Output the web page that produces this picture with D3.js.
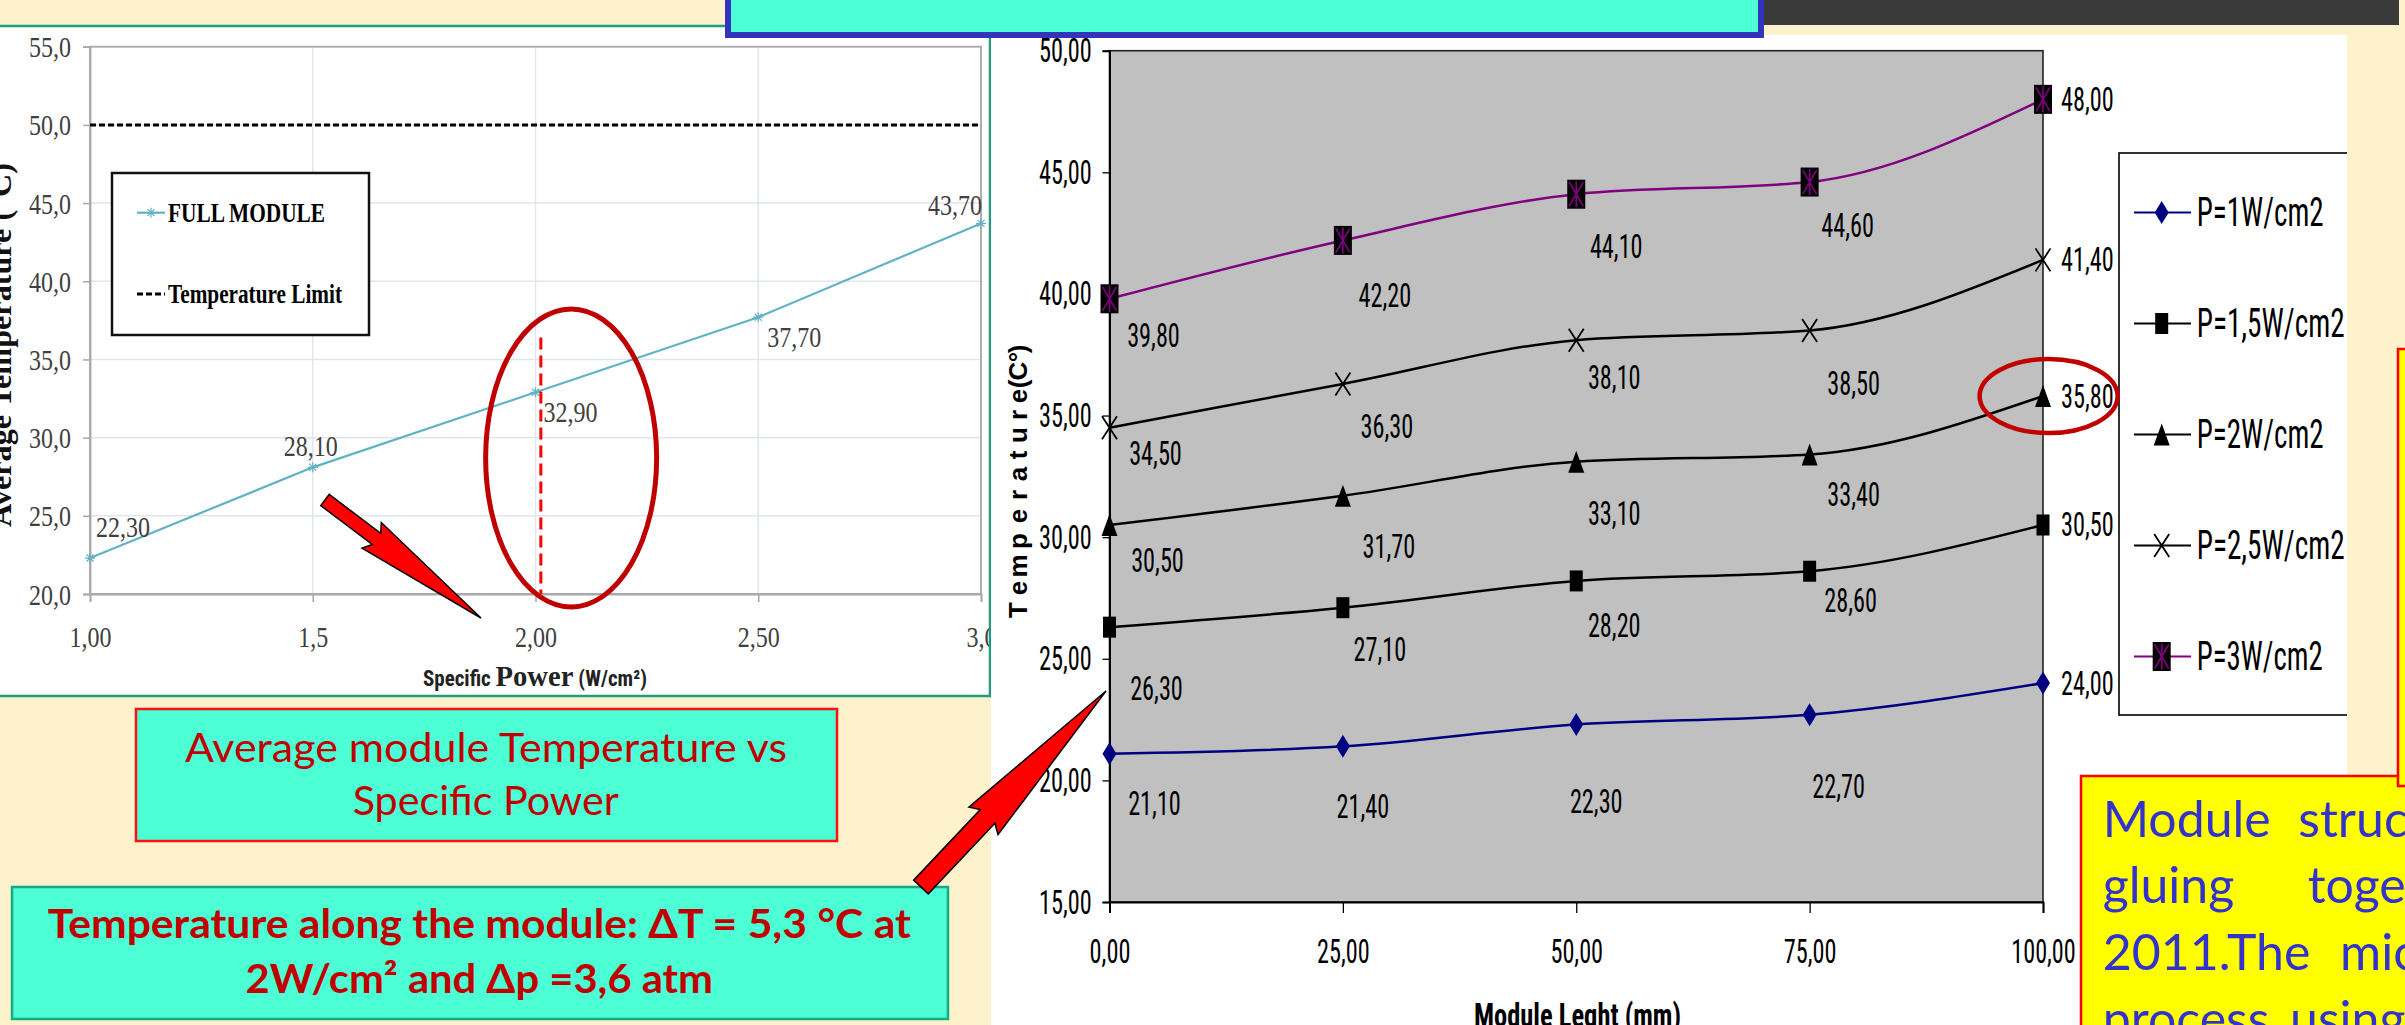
<!DOCTYPE html>
<html><head><meta charset="utf-8">
<script src="https://cdn.jsdelivr.net/npm/d3@7"></script>
<style>html,body{margin:0;padding:0;background:#fdf2cc;overflow:hidden}svg{display:block}</style>
</head><body>
<svg id="c" width="2405" height="1025"></svg>
<script>
// ---------------- DATA ----------------
// Left chart: average module temperature vs specific power
const powerLevels = [1.0, 1.5, 2.0, 2.5, 3.0];
const powerTickLabels = ["1,00", "1,5", "2,00", "2,50", "3,0"];
const avgTemperature = [22.3, 28.1, 32.9, 37.7, 43.7];
const temperatureLimit = 50;
const leftYTicks = [20, 25, 30, 35, 40, 45, 50, 55];
const leftLegend = ["FULL MODULE", "Temperature Limit"];

// Right chart: temperature along the module
const moduleLength = [0, 25, 50, 75, 100];
const seriesNames = ["P=1W/cm2", "P=1,5W/cm2", "P=2W/cm2", "P=2,5W/cm2", "P=3W/cm2"];
const tempP1  = [21.1, 21.4, 22.3, 22.7, 24.0];
const tempP15 = [26.3, 27.1, 28.2, 28.6, 30.5];
const tempP2  = [30.5, 31.7, 33.1, 33.4, 35.8];
const tempP25 = [34.5, 36.3, 38.1, 38.5, 41.4];
const tempP3  = [39.8, 42.2, 44.1, 44.6, 48.0];
const rightYTicks = [15, 20, 25, 30, 35, 40, 45, 50];

// ---------------- STYLE / LAYOUT ----------------
const W = 2405, H = 1025;
const CREAM = "#fdf2cc", TURQ = "#4dffd4", DARKRED = "#c00000";
const NARROW = "'Liberation Sans Narrow','Arial Narrow','Roboto Condensed','Liberation Sans',Arial,sans-serif";
const SANS = "'Liberation Sans',Arial,sans-serif";
const SERIF = "'Liberation Serif','Times New Roman',serif";
const CALIBRI = "Lato,'Open Sans',sans-serif";
const seriesStyle = [
  {color: "#000080", marker: "diamond"},
  {color: "#000000", marker: "square"},
  {color: "#000000", marker: "triangle"},
  {color: "#000000", marker: "cross"},
  {color: "#800080", marker: "boxstar"}
];
// label nudges (px) relative to the point for the data labels
const leftLabelNudge = [[33, -31], [-2, -21], [35, 20], [36, 20], [-26, -18]];
const rightLabelNudge = [
  [[45, 50], [20, 60], [20, 77], [29, 72]],
  [[47, 61], [37, 42], [38, 45], [41, 29]],
  [[48, 36], [46, 51], [38, 52], [44, 40]],
  [[46, 26], [44, 43], [38, 37], [44, 53]],
  [[44, 37], [42, 55], [40, 52], [38, 43]]
];
// spaced-out right y-axis title: characters and their vertical centres
const rightTitleChars = "Temperature(C°)".split("");
const rightTitleCharY = [610, 588, 566, 541, 516, 495, 474, 455, 435, 415, 396, 384, 371, 357, 349];

const fmt2 = v => d3.format(".2f")(v).replace(".", ",");
const fmt1 = v => d3.format(".1f")(v).replace(".", ",");
function numW(s, dw, cw) { let w = 0; for (const c of s) w += (c === "," ? cw : dw); return w; }
function fitText(t, w) { return t.attr("textLength", w).attr("lengthAdjust", "spacingAndGlyphs"); }
function rotatedTitle(parent, cx, cy, str, target, font) {
  const g = parent.append("g");
  const t = g.append("text").attr("text-anchor", "middle").style("white-space", "pre")
    .attr("font-family", font.family).attr("font-weight", "bold").attr("font-size", font.size).attr("fill", font.fill)
    .text(str);
  const w = t.node().getComputedTextLength() || target;
  g.attr("transform", `translate(${cx},${cy}) rotate(-90) scale(${target / w},1)`);
}

const svg = d3.select("#c");
const defs = svg.append("defs");
svg.append("rect").attr("width", W).attr("height", H).attr("fill", CREAM);

// =============== LEFT PANEL ===============
defs.append("clipPath").attr("id", "clipL").append("rect").attr("x", 0).attr("y", 26).attr("width", 989).attr("height", 669);
svg.append("rect").attr("x", -3).attr("y", 26).attr("width", 993).attr("height", 670)
  .attr("fill", "#fff").attr("stroke", "#1f9c7c").attr("stroke-width", 2.5);
const L = svg.append("g").attr("clip-path", "url(#clipL)");
const xL = d3.scaleLinear().domain([1, 3]).range([90, 981]);
const yL = d3.scaleLinear().domain([20, 55]).range([594, 46.7]);

L.append("g").selectAll("line").data(leftYTicks).join("line")
  .attr("x1", xL(1)).attr("x2", xL(3)).attr("y1", d => yL(d)).attr("y2", d => yL(d))
  .attr("stroke", "#dfe6ee").attr("stroke-width", 1.5);
L.append("g").selectAll("line").data(powerLevels).join("line")
  .attr("x1", d => xL(d)).attr("x2", d => xL(d)).attr("y1", yL(55)).attr("y2", yL(20))
  .attr("stroke", "#dfe6ee").attr("stroke-width", 1.5);
L.append("rect").attr("x", xL(1)).attr("y", yL(55)).attr("width", xL(3) - xL(1)).attr("height", yL(20) - yL(55))
  .attr("fill", "none").attr("stroke", "#a8a8a8").attr("stroke-width", 1.8);

const axL = L.append("g").attr("transform", `translate(0,${yL(20)})`)
  .call(d3.axisBottom(xL).tickValues(powerLevels).tickFormat((d, i) => powerTickLabels[i]).tickSize(8));
const ayL = L.append("g").attr("transform", `translate(${xL(1)},0)`)
  .call(d3.axisLeft(yL).tickValues(leftYTicks).tickFormat(fmt1).tickSize(7));
[axL, ayL].forEach(a => { a.select(".domain").attr("stroke", "#a8a8a8").attr("stroke-width", 1.8); a.selectAll(".tick line").attr("stroke", "#a8a8a8").attr("stroke-width", 1.5); });
axL.selectAll(".tick text").each(function () {
  const t = d3.select(this), w = numW(t.text(), 12, 6);
  t.attr("font-family", SERIF).attr("font-size", 29).attr("fill", "#404040").attr("text-anchor", "start")
    .attr("x", -w / 2).attr("y", 52.7).attr("dy", 0);
  fitText(t, w);
});
ayL.selectAll(".tick text").each(function () {
  const t = d3.select(this), w = numW(t.text(), 12, 6);
  t.attr("font-family", SERIF).attr("font-size", 29).attr("fill", "#404040").attr("text-anchor", "start")
    .attr("x", -(xL(1) - 71) - w).attr("dy", 10);
  fitText(t, w);
});

L.append("line").attr("x1", xL(1)).attr("x2", xL(3)).attr("y1", yL(temperatureLimit)).attr("y2", yL(temperatureLimit))
  .attr("stroke", "#000").attr("stroke-width", 3).attr("stroke-dasharray", "6,3");

const TEAL = "#62b2c6";
const leftPts = powerLevels.map((p, i) => [xL(p), yL(avgTemperature[i])]);
L.append("path").attr("d", d3.line()(leftPts)).attr("fill", "none").attr("stroke", TEAL).attr("stroke-width", 2.2);
const astr = "M-5,0H5M0,-5V5M-3.5,-3.5L3.5,3.5M3.5,-3.5L-3.5,3.5";
L.append("g").selectAll("path").data(leftPts).join("path")
  .attr("transform", d => `translate(${d[0]},${d[1]})`).attr("d", astr).attr("stroke", TEAL).attr("stroke-width", 1.2);
L.append("g").selectAll("text").data(avgTemperature).join("text")
  .each(function (v, i) {
    const s = fmt2(v), w = numW(s, 12, 6);
    const t = d3.select(this).text(s)
      .attr("x", xL(powerLevels[i]) + leftLabelNudge[i][0] - w / 2)
      .attr("y", yL(v) + leftLabelNudge[i][1] + 10)
      .attr("font-family", SERIF).attr("font-size", 30).attr("fill", "#404040");
    fitText(t, w);
  });

L.append("rect").attr("x", 112).attr("y", 173).attr("width", 257).attr("height", 162)
  .attr("fill", "#fff").attr("stroke", "#111").attr("stroke-width", 2.5);
L.append("line").attr("x1", 137).attr("x2", 165).attr("y1", 212.7).attr("y2", 212.7).attr("stroke", TEAL).attr("stroke-width", 2.2);
L.append("path").attr("transform", "translate(151,212.7)").attr("d", astr).attr("stroke", TEAL).attr("stroke-width", 1.2);
L.append("line").attr("x1", 137).attr("x2", 165).attr("y1", 294).attr("y2", 294).attr("stroke", "#000").attr("stroke-width", 3).attr("stroke-dasharray", "6,3");
fitText(L.append("text").text(leftLegend[0]).attr("x", 168).attr("y", 222).attr("font-family", SERIF).attr("font-weight", "bold").attr("font-size", 28), 157);
fitText(L.append("text").text(leftLegend[1]).attr("x", 168).attr("y", 303).attr("font-family", SERIF).attr("font-weight", "bold").attr("font-size", 28), 174);

rotatedTitle(L, 11, 345, "Average Temperature (°C)", 364, {family: SERIF, size: 32, fill: "#111"});
const xtl = L.append("text").attr("x", 423).attr("y", 686).attr("font-weight", "bold").attr("fill", "#222");
xtl.append("tspan").attr("font-family", NARROW).attr("font-size", 22).text("Specific ");
xtl.append("tspan").attr("font-family", SERIF).attr("font-size", 30).text("Power");
xtl.append("tspan").attr("font-family", NARROW).attr("font-size", 22).text(" (W/cm²)");
fitText(xtl, 224);

L.append("ellipse").attr("cx", xL(2.08)).attr("cy", yL(28.7)).attr("rx", 85.5).attr("ry", 149)
  .attr("fill", "none").attr("stroke", DARKRED).attr("stroke-width", 5);
L.append("line").attr("x1", xL(2.012)).attr("x2", xL(2.012)).attr("y1", yL(36.4)).attr("y2", yL(20))
  .attr("stroke", "#ff0000").attr("stroke-width", 3).attr("stroke-dasharray", "12,6");

// =============== RIGHT PANEL ===============
defs.append("clipPath").attr("id", "clipR").append("rect").attr("x", 991).attr("y", 35).attr("width", 1356).attr("height", 990);
svg.append("rect").attr("x", 991).attr("y", 35).attr("width", 1356).attr("height", 990).attr("fill", "#fff");
const R = svg.append("g").attr("clip-path", "url(#clipR)");
const xR = d3.scaleLinear().domain([0, 100]).range([1109.5, 2043]);
const yR = d3.scaleLinear().domain([15, 50]).range([902, 50.7]);

R.append("rect").attr("x", xR(0)).attr("y", yR(50)).attr("width", xR(100) - xR(0)).attr("height", yR(15) - yR(50))
  .attr("fill", "#c0c0c0").attr("stroke", "#222").attr("stroke-width", 1.6);

const axR = R.append("g").attr("transform", `translate(0,${yR(15)})`)
  .call(d3.axisBottom(xR).tickValues(moduleLength).tickFormat(fmt2).tickSize(11));
const ayR = R.append("g").attr("transform", `translate(${xR(0)},0)`)
  .call(d3.axisLeft(yR).tickValues(rightYTicks).tickFormat(fmt2).tickSize(7));
[axR, ayR].forEach(a => { a.select(".domain").attr("stroke", "#000").attr("stroke-width", 2); a.selectAll(".tick line").attr("stroke", "#000").attr("stroke-width", 1.3); });
axR.selectAll(".tick text").each(function () {
  const t = d3.select(this), w = numW(t.text(), 11.8, 5.5);
  t.attr("font-family", NARROW).attr("font-size", 33).attr("fill", "#000").attr("text-anchor", "start")
    .attr("x", -w / 2).attr("y", 61.3).attr("dy", 0);
  fitText(t, w);
});
ayR.selectAll(".tick text").each(function () {
  const t = d3.select(this), w = numW(t.text(), 11.8, 5.5);
  t.attr("font-family", NARROW).attr("font-size", 33).attr("fill", "#000").attr("text-anchor", "start")
    .attr("x", -17.8 - w).attr("dy", 11);
  fitText(t, w);
});

function marker(g, type, x, y, color) {
  const m = g.append("g").attr("transform", `translate(${x},${y})`);
  if (type === "diamond") m.append("path").attr("d", "M0,-11.5L7,0L0,11.5L-7,0Z").attr("fill", color);
  else if (type === "square") m.append("rect").attr("x", -6.5).attr("y", -10.5).attr("width", 13).attr("height", 21).attr("fill", color);
  else if (type === "triangle") m.append("path").attr("d", "M0,-11L8,11L-8,11Z").attr("fill", color);
  else if (type === "cross") m.append("path").attr("d", "M-7.5,-11.5L7.5,11.5M7.5,-11.5L-7.5,11.5").attr("stroke", color).attr("stroke-width", 1.8);
  else if (type === "boxstar") {
    m.append("rect").attr("x", -9).attr("y", -14.5).attr("width", 18).attr("height", 29).attr("fill", "#000");
    m.append("path").attr("d", "M-7,-12L7,12M7,-12L-7,12M0,-13L0,13").attr("stroke", color).attr("stroke-width", 1.6);
  }
}

const seriesValues = [tempP1, tempP15, tempP2, tempP25, tempP3];
const lineGen = d3.line().curve(d3.curveMonotoneX);
seriesValues.forEach((vals, si) => {
  const st = seriesStyle[si];
  const pts = moduleLength.map((m, i) => [xR(m), yR(vals[i])]);
  R.append("path").attr("d", lineGen(pts)).attr("fill", "none").attr("stroke", st.color).attr("stroke-width", 2.5);
  pts.forEach(p => marker(R, st.marker, p[0], p[1], st.color));
  vals.forEach((v, i) => {
    const s = fmt2(v), w = numW(s, 11.8, 5.5);
    let x, y;
    if (i === vals.length - 1) { x = pts[i][0] + 18; y = pts[i][1] + 11.5; }
    else { x = pts[i][0] + rightLabelNudge[si][i][0] - w / 2; y = pts[i][1] + rightLabelNudge[si][i][1] + 11.5; }
    fitText(R.append("text").text(s).attr("x", x).attr("y", y).attr("font-family", NARROW).attr("font-size", 33).attr("fill", "#000"), w);
  });
});

R.append("rect").attr("x", 2119).attr("y", 153).attr("width", 400).attr("height", 562)
  .attr("fill", "#fff").attr("stroke", "#000").attr("stroke-width", 1.6);
const legendTextW = [127, 148, 127, 148, 126];
seriesNames.forEach((n, i) => {
  const y = 212.5 + i * 111, st = seriesStyle[i];
  R.append("line").attr("x1", 2134).attr("x2", 2191).attr("y1", y).attr("y2", y).attr("stroke", st.color).attr("stroke-width", 2);
  marker(R, st.marker, 2161.7, y, st.color);
  fitText(R.append("text").text(n).attr("x", 2196.7).attr("y", y + 13).attr("font-family", NARROW).attr("font-size", 40).attr("fill", "#000"), legendTextW[i]);
});

// spaced right y title, one glyph per position
const rt = R.append("g");
rightTitleChars.forEach((ch, i) => {
  rt.append("text").attr("transform", `translate(1026.6,${rightTitleCharY[i]}) rotate(-90)`)
    .attr("text-anchor", "middle").attr("font-family", SANS).attr("font-weight", "bold")
    .attr("font-size", 26).attr("fill", "#000").text(ch);
});
fitText(R.append("text").attr("x", 1474).attr("y", 1027).attr("font-family", NARROW).attr("font-weight", "bold")
  .attr("font-size", 33).attr("fill", "#000").text("Module Leght (mm)"), 207);

R.append("ellipse").attr("cx", xR(100.6)).attr("cy", yR(35.8)).attr("rx", 69).attr("ry", 37)
  .attr("fill", "none").attr("stroke", DARKRED).attr("stroke-width", 4.5);

// =============== TOP BANNER / STRIP ===============
svg.append("rect").attr("x", 728).attr("y", -10).attr("width", 1033).attr("height", 45)
  .attr("fill", TURQ).attr("stroke", "#3333bb").attr("stroke-width", 6);
svg.append("rect").attr("x", 1764).attr("y", 0).attr("width", 635).attr("height", 25).attr("fill", "#3a3a3a");

// =============== CAPTIONS ===============
svg.append("rect").attr("x", 136).attr("y", 709).attr("width", 701).attr("height", 132)
  .attr("fill", TURQ).attr("stroke", "#ff1010").attr("stroke-width", 2.5);
fitText(svg.append("text").attr("x", 185).attr("y", 761.7).attr("font-family", CALIBRI).attr("font-size", 40).attr("fill", DARKRED)
  .text("Average module Temperature  vs"), 602);
fitText(svg.append("text").attr("x", 352.7).attr("y", 815).attr("font-family", CALIBRI).attr("font-size", 40).attr("fill", DARKRED)
  .text("Specific Power"), 266);

svg.append("rect").attr("x", 12).attr("y", 887).attr("width", 936).attr("height", 132)
  .attr("fill", TURQ).attr("stroke", "#1aa880").attr("stroke-width", 2.5);
fitText(svg.append("text").attr("x", 47.8).attr("y", 938.3).attr("font-family", CALIBRI).attr("font-weight", "bold").attr("font-size", 40).attr("fill", DARKRED)
  .text("Temperature along the module: ΔT = 5,3 °C  at"), 863);
fitText(svg.append("text").attr("x", 245.5).attr("y", 993.3).attr("font-family", CALIBRI).attr("font-weight", "bold").attr("font-size", 40).attr("fill", DARKRED)
  .text("2W/cm² and Δp =3,6 atm"), 467.5);

svg.append("rect").attr("x", 2081).attr("y", 776).attr("width", 400).attr("height", 300)
  .attr("fill", "#ffff00").attr("stroke", "#ff0000").attr("stroke-width", 2.5);
const yellowLines = [["Module", "structure"], ["gluing", "together"], ["2011.The", "micro"], ["process", "using"]];
const yellowWordX = [[2102.7, 2298.3], [2102.7, 2307.7], [2102.7, 2340], [2102.7, 2290]];
yellowLines.forEach((ws, li) => ws.forEach((w, wi) => {
  svg.append("text").attr("x", yellowWordX[li][wi]).attr("y", 836.7 + li * 66.7)
    .attr("font-family", CALIBRI).attr("font-size", 50).attr("fill", "#3333cc").text(w);
}));
svg.append("rect").attr("x", 2398).attr("y", 349).attr("width", 60).attr("height", 437)
  .attr("fill", "#ffff00").attr("stroke", "#ff0000").attr("stroke-width", 2.5);

// =============== RED ARROWS ===============
function arrow(tail, tip, bh, hh, hs) {
  const dx = tip[0] - tail[0], dy = tip[1] - tail[1], len = Math.hypot(dx, dy);
  const ux = dx / len, uy = dy / len, vx = -uy, vy = ux;
  const P = (u, v) => [tail[0] + ux * u + vx * v, tail[1] + uy * u + vy * v];
  const h = len * hs;
  const pts = [P(0, -bh), P(h, -bh), P(h - 6, -hh), P(len, 0), P(h - 6, hh), P(h, bh), P(0, bh)];
  svg.append("path").attr("d", "M" + pts.map(p => p.join(",")).join("L") + "Z")
    .attr("fill", "#ff0000").attr("stroke", "#000").attr("stroke-width", 1.5).attr("stroke-linejoin", "miter");
}
arrow([325, 500], [481, 618], 7, 16, 0.33);
arrow([921, 887], [1106, 691], 10, 20, 0.36);
</script>
</body></html>
